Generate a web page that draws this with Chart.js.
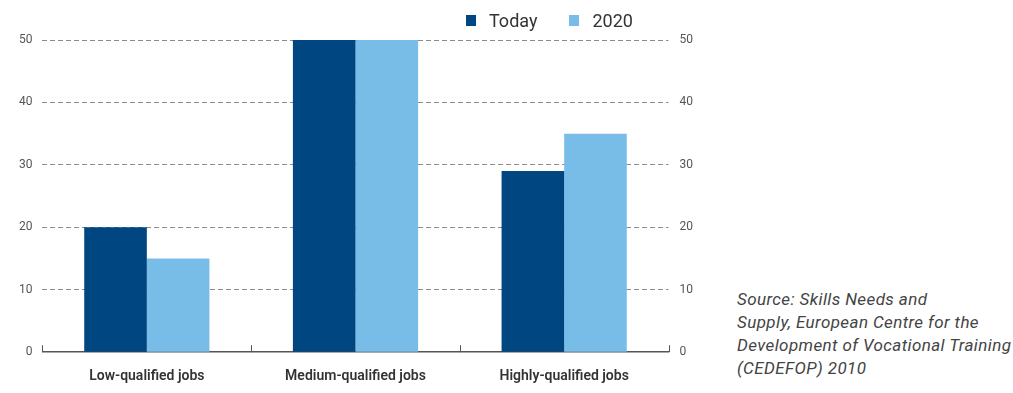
<!DOCTYPE html>
<html>
<head>
<meta charset="utf-8">
<script src="https://cdn.jsdelivr.net/npm/chart.js@4"></script>
<style>
  html, body { margin: 0; padding: 0; background: #fff; }
  body { width: 1013px; height: 393px; position: relative; overflow: hidden; font-family: Roboto, "Noto Sans", sans-serif; }
  #wrap { position: absolute; left: 0; top: 0; width: 712px; height: 401px; }
  #legend { position: absolute; top: 10px; left: 466px; display: flex; align-items: center; font-size: 18px; color: #333; }
  #legend .item { display: flex; align-items: center; margin-right: 32px; }
  #legend .sw { width: 10px; height: 11px; margin-right: 13px; }
  #source { position: absolute; left: 737px; top: 288px; font-size: 17px; letter-spacing: 0.4px; line-height: 23px; font-style: italic; color: #444; white-space: nowrap; }
</style>
</head>
<body>
<div id="wrap"><canvas id="c"></canvas></div>
<div id="legend"></div>
<div id="source">Source: Skills Needs and<br>Supply, European Centre for the<br>Development of Vocational Training<br>(CEDEFOP) 2010</div>
<script>
// Share of jobs by qualification level
const categories = ['Low-qualified jobs', 'Medium-qualified jobs', 'Highly-qualified jobs'];
const seriesNames = ['Today', '2020'];
const todayValues = [20, 50, 29];
const values2020 = [15, 50, 35];
const seriesColors = ['#004680', '#77bde8'];
const yMin = 0, yMax = 50, yStep = 10;

// Small upward tick marks on the category axis at each category boundary
const boundaryTicks = {
  id: 'boundaryTicks',
  afterDatasetsDraw(chart) {
    const x = chart.scales.x, ctx = chart.ctx;
    const bottom = chart.chartArea.bottom;
    const half = (x.getPixelForValue(1) - x.getPixelForValue(0)) / 2;
    ctx.save();
    ctx.strokeStyle = '#555';
    ctx.lineWidth = 1;
    for (let i = 0; i <= categories.length; i++) {
      const px = Math.round(x.getPixelForValue(0) - half + i * 2 * half) + 0.5;
      ctx.beginPath();
      ctx.moveTo(px, bottom);
      ctx.lineTo(px, bottom - 7);
      ctx.stroke();
    }
    ctx.restore();
  }
};

const legend = document.getElementById('legend');
seriesNames.forEach((n, i) => {
  const it = document.createElement('div');
  it.className = 'item';
  it.innerHTML = '<span class="sw" style="background:' + seriesColors[i] + '"></span>' + n;
  legend.appendChild(it);
});

const tickFont = { family: 'Roboto', size: 12 };
new Chart(document.getElementById('c'), {
  type: 'bar',
  data: {
    labels: categories,
    datasets: [
      { label: seriesNames[0], data: todayValues, backgroundColor: seriesColors[0], yAxisID: 'y' },
      { label: seriesNames[1], data: values2020, backgroundColor: seriesColors[1], yAxisID: 'y' }
    ]
  },
  options: {
    responsive: true,
    maintainAspectRatio: false,
    animation: false,
    layout: { padding: { left: 9, right: 8, top: 40, bottom: 0 } },
    datasets: { bar: { barPercentage: 1, categoryPercentage: 0.6, borderWidth: 0 } },
    plugins: { legend: { display: false }, tooltip: { enabled: false } },
    scales: {
      x: {
        grid: { display: false, drawTicks: false },
        border: { display: true, color: '#555', width: 1.5 },
        ticks: { color: '#333', font: { family: 'Roboto', size: 14, weight: '600' }, padding: 16 }
      },
      y: {
        position: 'left',
        min: yMin, max: yMax,
        ticks: { stepSize: yStep, color: '#555', font: tickFont, padding: 10 },
        grid: {
          drawTicks: false,
          lineWidth: 1,
          color: c => (c.tick && c.tick.value === 0) ? 'rgba(0,0,0,0)' : '#8c8c8c'
        },
        border: { display: false, dash: [5, 3] }
      },
      y2: {
        position: 'right',
        min: yMin, max: yMax,
        ticks: { stepSize: yStep, color: '#555', font: tickFont, padding: 11 },
        grid: { display: false, drawTicks: false },
        border: { display: false }
      }
    }
  },
  plugins: [boundaryTicks]
});
</script>
</body>
</html>
